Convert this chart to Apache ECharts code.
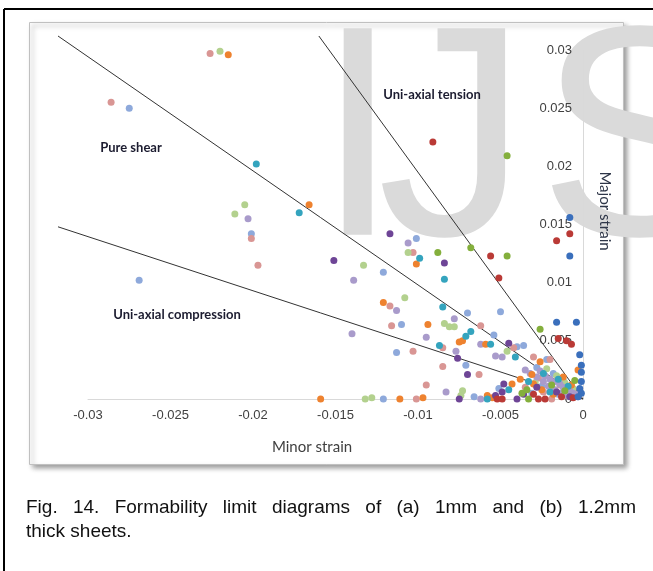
<!DOCTYPE html>
<html>
<head>
<meta charset="utf-8">
<script src="https://cdn.jsdelivr.net/npm/echarts@6/dist/echarts.min.js"></script>
<style>
html,body{margin:0;padding:0;background:#fff;}
#c{width:653px;height:571px;}
</style>
</head>
<body>
<div id="c"></div>
<script>
// ---- data ----
const xTickLabels = ['-0.03','-0.025','-0.02','-0.015','-0.01','-0.005','0'];
const yTickLabels = ['0','0.005','0.01','0.015','0.02','0.025','0.03'];

const lightBlue = [[-0.0275,0.0250],[-0.0201,0.0142],[-0.0269,0.0102],[-0.0101,0.0138],[-0.0121,0.0109],[-0.0070,0.0074],[-0.0050,0.0075],[-0.0110,0.0064],[-0.0113,0.0040],[-0.0071,0.0029],[-0.0066,0.0002],[-0.0121,0],[-0.0054,0.0055],[-0.0040,0.0045],[-0.0036,0.0046],[-0.0022,0.0034],[-0.0051,0.0009],[-0.0028,0.0027],[-0.0018,0.0022],[-0.0012,0.0016],[-0.0025,0.0011],[-0.0008,0.0008],[-0.0031,0.0005],[-0.0015,0.0004]];
const pink = [[-0.0226,0.0297],[-0.0286,0.0255],[-0.0201,0.0138],[-0.0197,0.0115],[-0.0103,0.0126],[-0.0117,0.0080],[-0.0116,0.0063],[-0.0062,0.0063],[-0.0085,0.0044],[-0.0103,0.0041],[-0.0085,0.0028],[-0.0101,0],[-0.0095,0.0012],[-0.0063,0.0021],[-0.0042,0.0044],[-0.0030,0.0036],[-0.0020,0.0034],[-0.0019,0],[-0.0027,0.0018],[-0.0014,0.0012],[-0.0035,0.0010],[-0.0010,0.0003],[-0.0024,0.0006]];
const lightGreen = [[-0.0220,0.0299],[-0.0205,0.0167],[-0.0211,0.0159],[-0.0106,0.0126],[-0.0133,0.0115],[-0.0108,0.0087],[-0.0084,0.0065],[-0.0081,0.0062],[-0.0078,0.0062],[-0.0132,0],[-0.0128,0.0001],[-0.0073,0.0007],[-0.0074,0.0003],[-0.0046,0.0041],[-0.0022,0.0026],[-0.0016,0.0020],[-0.0011,0.0014],[-0.0029,0.0014],[-0.0006,0.0009],[-0.0019,0.0008]];
const lavender = [[-0.0203,0.0155],[-0.0106,0.0134],[-0.0139,0.0102],[-0.0113,0.0076],[-0.0140,0.0056],[-0.0078,0.0069],[-0.0095,0.0053],[-0.0077,0.0041],[-0.0083,0.0006],[-0.0062,0],[-0.0062,0.0047],[-0.0053,0.0037],[-0.0049,0.0036],[-0.0035,0.0025],[-0.0032,0.0022],[-0.0026,0.0024],[-0.0023,0.0020],[-0.0020,0.0017],[-0.0017,0.0015],[-0.0014,0.0013],[-0.0012,0.0010],[-0.0010,0.0008],[-0.0008,0.0007],[-0.0006,0.0005],[-0.0004,0.0004],[-0.0021,0.0011],[-0.0017,0.0008],[-0.0013,0.0005],[-0.0009,0.0003],[-0.0024,0.0015],[-0.0003,0.0002],[-0.0028,0.0019]];
const orange = [[-0.0215,0.0296],[-0.0166,0.0167],[-0.0159,0],[-0.0101,0.0116],[-0.0121,0.0083],[-0.0094,0.0064],[-0.0075,0.0049],[-0.0073,0.0050],[-0.0111,0],[-0.0097,0.0001],[-0.0058,0.0003],[-0.0059,0.0047],[-0.0026,0.0032],[-0.0031,0.0021],[-0.0030,0.0013],[-0.0043,0.0013],[-0.0055,0.0001],[-0.0003,0.0025],[-0.0025,0.0008],[-0.0012,0.0019],[-0.0007,0.0012],[-0.0018,0.0004],[-0.0038,0.0017]];
const teal = [[-0.0198,0.0202],[-0.0172,0.0160],[-0.0099,0.0121],[-0.0084,0.0103],[-0.0085,0.0079],[-0.0068,0.0058],[-0.0071,0.0054],[-0.0087,0.0046],[-0.0056,0.0047],[-0.0041,0.0036],[-0.0045,0.0008],[-0.0058,0],[-0.0024,0.0022],[-0.0015,0.0017],[-0.0009,0.0011],[-0.0033,0.0015],[-0.0020,0.0006]];
const darkPurple = [[-0.0117,0.0142],[-0.0084,0.0117],[-0.0151,0.0119],[-0.0076,0.0035],[-0.0070,0.0021],[-0.0075,0],[-0.0045,0.0048],[-0.0048,0.0013],[-0.0049,0.0006],[-0.0053,0.0003],[-0.0040,0],[-0.0028,0.0010],[-0.0016,0.0006],[-0.0008,0.0002],[-0.0036,0.0004]];
const darkRed = [[-0.0091,0.0221],[-0.0008,0.0142],[-0.0016,0.0136],[-0.0056,0.0123],[-0.0051,0.0104],[-0.0015,0.0052],[-0.0010,0.0050],[-0.0007,0.0047],[-0.0027,0],[-0.0023,0],[-0.0052,0],[-0.0049,0],[-0.0013,0.0002],[-0.0006,0.0001],[-0.0030,0.0004]];
const green = [[-0.0046,0.0209],[-0.0088,0.0126],[-0.0068,0.0130],[-0.0046,0.0123],[-0.0026,0.0060],[-0.0037,0.0005],[-0.0034,0.0008],[-0.0033,0],[-0.0011,0.0007],[-0.0019,0.0012],[-0.0005,0.0016]];
const blue = [[-0.0008,0.0156],[-0.0008,0.0123],[-0.0016,0.0066],[-0.0004,0.0066],[-0.0002,0.0038],[-0.0001,0.0029],[-0.0001,0.0023],[-0.0001,0.0015],[-0.0002,0.0009],[-0.0001,0.0005],[-0.0003,0.0002]];

const shearLine = [[-0.0318,0.0312],[0,0]];
const tensionLine = [[-0.0160,0.0312],[0,0]];
const compressionLine = [[-0.0318,0.0148],[0,0]];

const captionLine1 = ['Fig.','14.','Formability','limit','diagrams','of','(a)','1mm','and','(b)','1.2mm'];
const captionLine2 = 'thick sheets.';

// ---- chart ----
const chart = echarts.init(document.getElementById('c'), null, {renderer:'canvas'});

const scatterSets = [
  [lightBlue,'#8EA9DB'],[pink,'#D99694'],[lightGreen,'#B3D18E'],[lavender,'#A99BCB'],
  [orange,'#EE822F'],[teal,'#34A4BE'],[darkPurple,'#6E4596'],[darkRed,'#BA3A36'],
  [green,'#84AF3C'],[blue,'#3A6FBC']
];

const series = [];
[shearLine, tensionLine, compressionLine].forEach(d => series.push({
  type:'line', data:d, symbol:'none', clip:false, silent:true, z:3,
  xAxisIndex:1, yAxisIndex:1,
  lineStyle:{color:'#333333', width:1}
}));
scatterSets.forEach(([d,c]) => series.push({
  type:'scatter', data:d, symbolSize:7, z:4,
  itemStyle:{color:c, opacity:1}
}));

const mctx = document.createElement('canvas').getContext('2d');

// caption justified
const capFont = '19px "Liberation Sans", Arial, sans-serif';
mctx.font = capFont;
const capLeft = 26, capRight = 636;
const widths = captionLine1.map(w => mctx.measureText(w).width);
const total = widths.reduce((a,b)=>a+b,0);
const gap = (capRight - capLeft - total) / (captionLine1.length - 1);
const captionEls = [];
let cx = capLeft;
captionLine1.forEach((w,i) => {
  captionEls.push({type:'text', z:10, style:{text:w, x:cx, y:508, font:capFont, fill:'#111', textVerticalAlign:'middle'}});
  cx += widths[i] + gap;
});
captionEls.push({type:'text', z:10, style:{text:captionLine2, x:capLeft, y:532, font:capFont, fill:'#111', textVerticalAlign:'middle'}});

// watermark letters
const wmFont = '300px "Liberation Sans", Arial, sans-serif';
mctx.font = wmFont;
const advI = mctx.measureText('I').width, advJ = mctx.measureText('J').width;
const wmY = 152;
const wmEls = [
  {type:'text', z:-10, style:{text:'I', x:316, y:wmY, font:wmFont, fill:'#dadada', textVerticalAlign:'middle'}},
  {type:'text', z:-10, style:{text:'J', x:312 + advI - 18, y:wmY, font:wmFont, fill:'#dadada', textVerticalAlign:'middle'}},
  {type:'text', z:-10, style:{text:'S', x:312 + advI + advJ - 7, y:wmY, font:wmFont, fill:'#dadada', textVerticalAlign:'middle'}}
];

const annoFont = 'bold 13px Lato, "Open Sans", sans-serif';
const titleFont = '15px Lato, "Open Sans", sans-serif';
const option = {
  animation:false,
  backgroundColor:'#ffffff',
  grid:[
    {left:88, right:70, top:50, bottom:172, containLabel:false},
    {left:58, right:70, top:36, bottom:172, containLabel:false}
  ],
  xAxis:[{
    type:'value', min:-0.03, max:0, interval:0.005,
    axisLine:{show:true, onZero:false, lineStyle:{color:'#d9d9d9', width:1}},
    axisTick:{show:false}, splitLine:{show:false},
    axisLabel:{
      margin:10, color:'#404040', fontSize:13, fontFamily:'"Liberation Sans", Arial, sans-serif',
      formatter:v => xTickLabels[Math.round((v + 0.03) / 0.005)]
    }
  },{
    type:'value', gridIndex:1, min:-0.0318, max:0, show:false
  }],
  yAxis:[{
    type:'value', min:0, max:0.03, interval:0.005, position:'right',
    axisLine:{show:true, onZero:false, lineStyle:{color:'#d9d9d9', width:1}},
    axisTick:{show:false}, splitLine:{show:false},
    axisLabel:{
      inside:true, margin:11, color:'#404040', fontSize:13, fontFamily:'"Liberation Sans", Arial, sans-serif',
      formatter:v => yTickLabels[Math.round(v / 0.005)]
    }
  },{
    type:'value', gridIndex:1, min:0, max:0.0312, show:false
  }],
  graphic:[
    // outer frame
    {type:'line', z:-20, shape:{x1:4, y1:9, x2:653, y2:9}, style:{stroke:'#000', lineWidth:2}},
    {type:'line', z:-20, shape:{x1:4, y1:9, x2:4, y2:571}, style:{stroke:'#000', lineWidth:2}},
    // chart panel
    {type:'rect', z:-15, shape:{x:29.5, y:22.5, width:594, height:442},
      style:{fill:'#fff', stroke:'#c0c0c0', lineWidth:1, shadowBlur:5, shadowOffsetX:3, shadowOffsetY:3, shadowColor:'rgba(0,0,0,0.4)'}},
    // annotations
    {type:'text', z:10, style:{text:'Pure shear', x:131, y:148, font:annoFont, fill:'#1c1c30', textAlign:'center', textVerticalAlign:'middle'}},
    {type:'text', z:10, style:{text:'Uni-axial tension', x:432, y:95, font:annoFont, fill:'#1c1c30', textAlign:'center', textVerticalAlign:'middle'}},
    {type:'text', z:10, style:{text:'Uni-axial compression', x:177, y:315, font:annoFont, fill:'#1c1c30', textAlign:'center', textVerticalAlign:'middle'}},
    // axis titles
    {type:'text', z:10, style:{text:'Minor strain', x:312, y:447, font:titleFont, fill:'#404040', textAlign:'center', textVerticalAlign:'middle'}},
    {type:'text', z:10, x:605, y:211, rotation:-Math.PI/2, style:{text:'Major strain', x:0, y:0, font:titleFont, fill:'#2e3648', textAlign:'center', textVerticalAlign:'middle'}}
  ].concat(wmEls, captionEls),
  series:series
};
chart.setOption(option);
</script>
</body>
</html>
